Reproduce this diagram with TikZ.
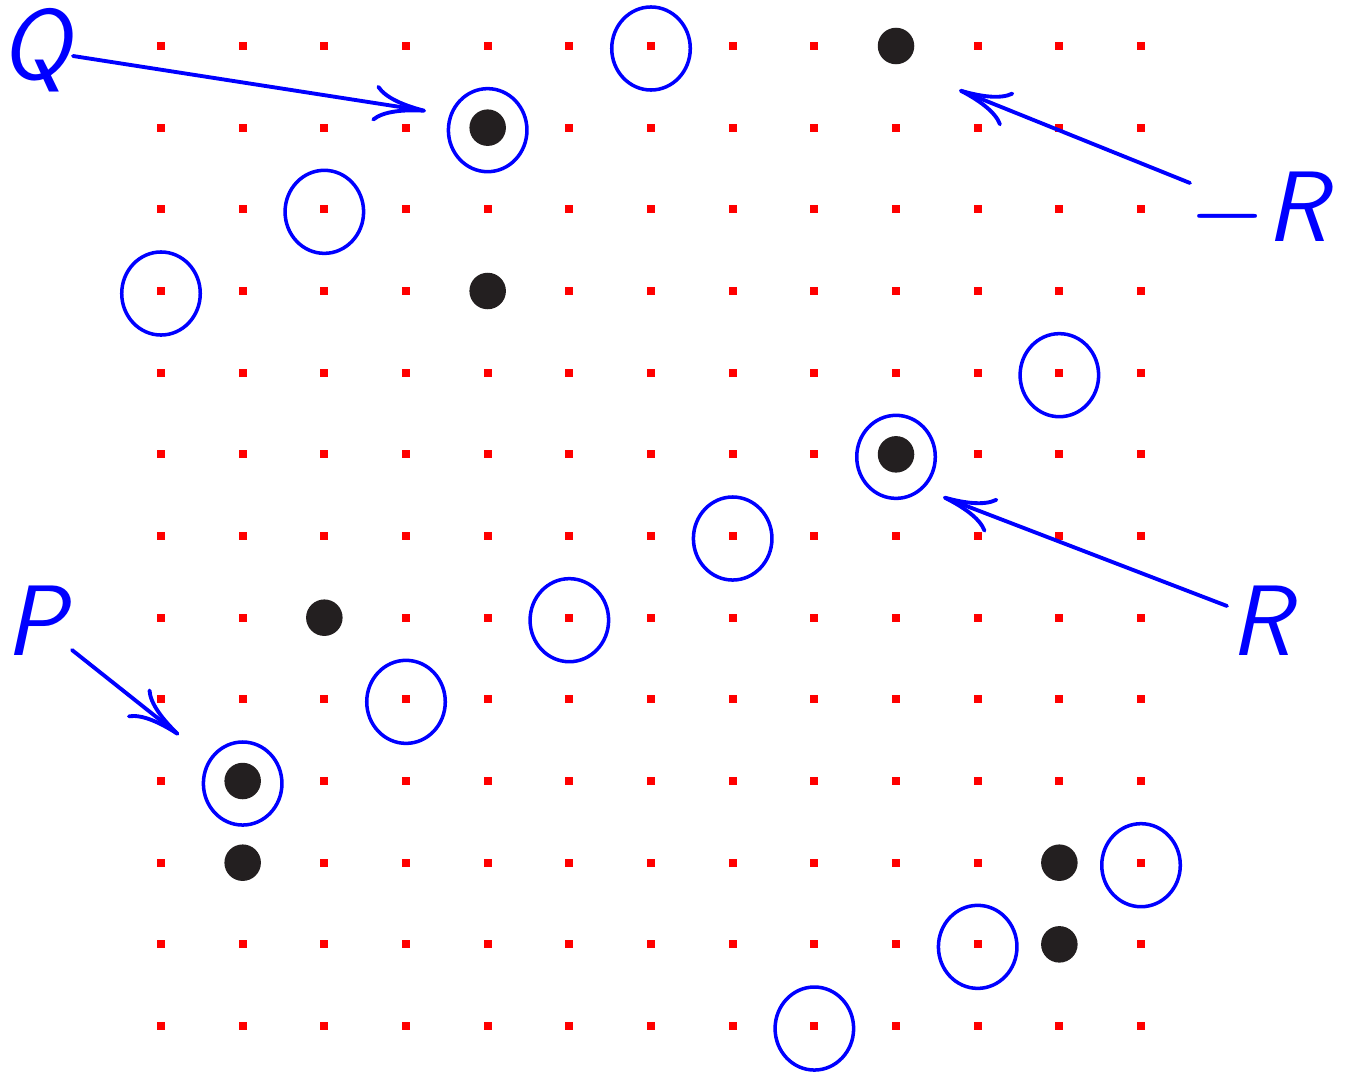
\documentclass[tikz,border=0pt]{standalone}
\usetikzlibrary{arrows.meta,shapes.geometric}
\definecolor{dotgray}{HTML}{231F20}
\begin{document}
\begin{tikzpicture}[x=0.01cm,y=-0.01cm,
  gridpt/.style={fill=red,inner sep=0pt,minimum size=0.08cm,draw=none},
  bdot/.style={circle,fill=dotgray,inner sep=0pt,minimum size=0.365cm,draw=none},
  ring/.style={ellipse,draw=blue,line width=1pt,inner sep=0pt,minimum width=0.785cm,minimum height=0.83cm},
  lbl/.style={text=blue,inner sep=0pt,anchor=base west,font=\fontsize{28.5}{34}\selectfont\sffamily\itshape},
  conn/.style={draw=blue,line width=1.1pt,line cap=round,-{Computer Modern Rightarrow[length=15pt,width=10.5pt]}}]
\useasboundingbox (0,0) rectangle (1353,1076);
% red grid
\foreach \r in {0,...,12}{
  \foreach \c in {0,...,12}{
    \node[gridpt] (g-\r-\c) at ({161+81.67*\c},{46+81.67*\r}) {};
  }
}
% black dots
\foreach \r/\c [count=\i] in {0/9,1/4,3/4,5/9,7/2,9/1,10/1,10/11,11/11}{
  \node[bdot] (b\i) at ({161+81.67*\c},{46+81.67*\r}) {};
}
% blue rings
\foreach \r/\c [count=\i] in {0/6,1/4,2/2,3/0,4/11,5/9,6/7,7/5,8/3,9/1,10/12,11/10,12/8}{
  \node[ring] (o\i) at ({161+81.67*\c},{48.5+81.67*\r}) {};
}
% labels
\node[lbl] (Q) at (0,80) {Q};
\node[lbl] (mR) at (1189,242) {\scalebox{1.12}[1.15]{$-$}\hspace{0.2pt}R};
\node[lbl] (R) at (1230,656) {R};
\node[lbl] (P) at (5,656) {P};
% arrows
\coordinate (qs) at (73,56);
\coordinate (qe) at (426,111);
\coordinate (mrs) at (1190,183);
\coordinate (mre) at (959,90);
\coordinate (rs) at (1227,606);
\coordinate (re) at (943,497);
\coordinate (ps) at (72,650);
\coordinate (pe) at (179,735);
\draw[conn] (qs) -- (qe);
\draw[conn] (mrs) -- (mre);
\draw[conn] (rs) -- (re);
\draw[conn] (ps) -- (pe);
\end{tikzpicture}
\end{document}
